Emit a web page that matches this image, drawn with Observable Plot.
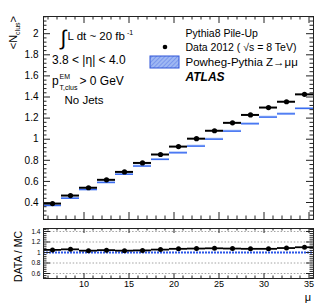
<!DOCTYPE html>
<html><head><meta charset="utf-8">
<script src="https://cdn.jsdelivr.net/npm/d3@7"></script>
<script src="https://cdn.jsdelivr.net/npm/@observablehq/plot@0.6"></script>
<style>
body{margin:0;background:#fff;}
#c{width:329px;height:305px;}
#c svg{display:block;}
</style></head><body><div id="c"></div>
<script>
// ---- data ----
const binCenters = [6.5, 8.5, 10.5, 12.5, 14.5, 16.5, 18.5, 20.5, 22.5, 24.5, 26.5, 28.5, 30.5, 32.5, 34.5];
const binHalfWidth = 1;
const dataMean = [0.39, 0.466, 0.54, 0.615, 0.69, 0.775, 0.855, 0.93, 1.005, 1.08, 1.155, 1.23, 1.30, 1.355, 1.425];
const mcMean   = [0.371, 0.44, 0.522, 0.589, 0.667, 0.745, 0.808, 0.871, 0.934, 1.0, 1.076, 1.146, 1.209, 1.24, 1.291];
const ratio    = [1.05, 1.06, 1.035, 1.045, 1.035, 1.04, 1.055, 1.07, 1.075, 1.08, 1.075, 1.07, 1.07, 1.085, 1.10];
const yTicksMain = [0.4, 0.6, 0.8, 1, 1.2, 1.4, 1.6, 1.8, 2];
const yTicksRatio = [0.6, 0.8, 1, 1.2, 1.4];
const xTicks = [10, 15, 20, 25, 30, 35];
const ratioGrid = [0.6, 0.8, 1.2, 1.4];

// ---- texts ----
const legendTitle = "Pythia8 Pile-Up";
const legendData = "Data 2012 ( √s = 8 TeV)";
const legendMC = "Powheg-Pythia Z→μμ";
const atlasLabel = "ATLAS";
const etaLabel = "3.8 < |η| < 4.0";
const jetsLabel = "No Jets";

const FONT = "'Liberation Sans', Arial, Helvetica, sans-serif";
const W = 329, mL = 43, mR = 16;
const xDom = [5.5, 35.5];
const yDomMain = [0.239, 2.163];
const yDomRatio = [0.505, 1.457];
const pxX = (W - mL - mR) / (xDom[1] - xDom[0]);

const rows = binCenters.map((c, i) => ({
  x: c, lo: c - binHalfWidth, hi: c + binHalfWidth,
  data: dataMean[i], mc: mcMean[i], r: ratio[i]
}));

function frameTicks(yDom, innerH, yMajor, yMinor, xMaj, xMin, xLenMaj, xLenMin, yLenMaj, yLenMin) {
  const pxY = innerH / (yDom[1] - yDom[0]);
  const s = {stroke: "#222", strokeWidth: 1};
  return [
    Plot.ruleY(yMajor, {...s, x1: xDom[0], x2: xDom[0] + yLenMaj / pxX}),
    Plot.ruleY(yMinor, {...s, x1: xDom[0], x2: xDom[0] + yLenMin / pxX}),
    Plot.ruleY(yMajor, {...s, x1: xDom[1], x2: xDom[1] - yLenMaj / pxX}),
    Plot.ruleY(yMinor, {...s, x1: xDom[1], x2: xDom[1] - yLenMin / pxX}),
    Plot.ruleX(xMaj, {...s, y1: yDom[0], y2: yDom[0] + xLenMaj / pxY}),
    Plot.ruleX(xMin, {...s, y1: yDom[0], y2: yDom[0] + xLenMin / pxY}),
    Plot.ruleX(xMaj, {...s, y1: yDom[1], y2: yDom[1] - xLenMaj / pxY}),
    Plot.ruleX(xMin, {...s, y1: yDom[1], y2: yDom[1] - xLenMin / pxY})
  ];
}
const xMinor = d3.range(6, 36).filter(v => v % 5 !== 0);
const yMinorMain = d3.range(6, 55).filter(i => i % 5 !== 0).map(i => +(i * 0.04).toFixed(2));
const yMinorRatio = d3.range(13, 37).filter(i => i % 5 !== 0).map(i => +(i * 0.04).toFixed(2));

// ---- main panel ----
const mainH = 222, mainTop = 16, mainBottom = 3;
const main = Plot.plot({
  width: W, height: mainH, marginLeft: mL, marginRight: mR, marginTop: mainTop, marginBottom: mainBottom,
  style: {fontFamily: FONT, fontSize: "10px", background: "white", color: "#000", overflow: "visible"},
  x: {domain: xDom, axis: null},
  y: {domain: yDomMain, axis: null},
  marks: [
    Plot.rect(rows, {x1: "lo", x2: "hi", y1: d => d.mc - 0.009, y2: d => d.mc + 0.009, fill: "#a3bdf6"}),
    Plot.ruleY(rows, {x1: "lo", x2: "hi", y: "mc", stroke: "#3a6cf2", strokeWidth: 1.3}),
    Plot.ruleY(rows, {x1: "lo", x2: "hi", y: "data", stroke: "#000", strokeWidth: 2}),
    Plot.dot(rows, {x: "x", y: "data", r: 2.6, fill: "#000"}),
    ...frameTicks(yDomMain, mainH - mainTop - mainBottom, yTicksMain, yMinorMain, xTicks, xMinor, 7, 3.5, 7, 3.5),
    Plot.axisY(yTicksMain, {anchor: "left", tickSize: 0, tickPadding: 5, fontSize: 10, label: null, tickFormat: d => String(d)}),
    Plot.frame({stroke: "#222"})
  ]
});

// ---- ratio panel ----
const ratioH = 83, ratioTop = 6, ratioBottom = 27;
const ratioPlot = Plot.plot({
  width: W, height: ratioH, marginLeft: mL, marginRight: mR, marginTop: ratioTop, marginBottom: ratioBottom,
  style: {fontFamily: FONT, fontSize: "9px", background: "white", color: "#000", overflow: "visible"},
  x: {domain: xDom, axis: null},
  y: {domain: yDomRatio, axis: null},
  marks: [
    Plot.ruleY(ratioGrid, {stroke: "#8a8a8a", strokeWidth: 0.8, strokeDasharray: "1.5,1.8"}),
    Plot.ruleY([1], {stroke: "#2a55e8", strokeWidth: 2, strokeDasharray: "2,1"}),
    Plot.ruleY(rows, {x1: "lo", x2: "hi", y: "r", stroke: "#000", strokeWidth: 1.8}),
    Plot.dot(rows, {x: "x", y: "r", r: 2.5, fill: "#000"}),
    ...frameTicks(yDomRatio, ratioH - ratioTop - ratioBottom, yTicksRatio, yMinorRatio, xTicks, xMinor, 5, 2.5, 7, 3.5),
    Plot.axisY(yTicksRatio, {anchor: "left", tickSize: 0, tickPadding: 3, fontSize: 6.5, label: null, tickFormat: d => String(d)}),
    Plot.axisX(xTicks, {anchor: "bottom", tickSize: 0, tickPadding: 2, fontSize: 9, label: null}),
    Plot.frame({stroke: "#222"})
  ]
});

// ---- rich text helper ----
function rich(svg, x, y, parts, attrs = {}) {
  const t = d3.select(svg).append("text").attr("x", x).attr("y", y)
    .attr("font-family", FONT).attr("fill", "#000").attr("text-anchor", "start");
  for (const [k, v] of Object.entries(attrs)) t.attr(k, v);
  let cur = 0;
  for (const p of parts) {
    const ts = t.append("tspan").text(p.t).attr("font-size", p.s);
    const b = p.b || 0;
    if (b !== cur) { ts.attr("dy", b - cur); cur = b; }
    if (p.dx) ts.attr("dx", p.dx);
    if (p.x != null) ts.attr("x", p.x);
    if (p.w) ts.attr("font-weight", p.w);
    if (p.i) ts.attr("font-style", "italic");
  }
  return t;
}

// main annotations
rich(main, 60.5, 45, [{t: "∫", s: 21}]);
rich(main, 67.5, 39.5, [{t: "L dt ~ 20 fb", s: 11.5}, {t: "-1", s: 7, b: -5, dx: 2}]);
rich(main, 52, 64, [{t: etaLabel, s: 12}]);
rich(main, 52, 85, [{t: "p", s: 12}, {t: "EM", s: 7, b: -6, x: 59.5}, {t: "T,clus", s: 7, b: 5, x: 59.5}, {t: "> 0 GeV", s: 12, b: 0, x: 79.5}]);
rich(main, 64.5, 104, [{t: jetsLabel, s: 11.5}]);
// y title
rich(main, 0, 0, [{t: "<N", s: 11}, {t: "clus", s: 7, b: 2.5}, {t: ">", s: 11, b: 0}],
  {"text-anchor": "end", transform: "translate(17,16) rotate(-90)"});

// legend
rich(main, 185.5, 37, [{t: legendTitle, s: 10.5}]);
d3.select(main).append("circle").attr("cx", 165).attr("cy", 47).attr("r", 2.3).attr("fill", "#000");
rich(main, 185.5, 51, [{t: legendData, s: 10.5}]);
const defs = d3.select(main).append("defs");
const pat = defs.append("pattern").attr("id", "hatch").attr("patternUnits", "userSpaceOnUse")
  .attr("width", 3).attr("height", 3).attr("patternTransform", "rotate(45)");
pat.append("rect").attr("width", 3).attr("height", 3).attr("fill", "#9fb8f3");
pat.append("line").attr("x1", 0).attr("y1", 0).attr("x2", 0).attr("y2", 3).attr("stroke", "#5577e6").attr("stroke-width", 1);
d3.select(main).append("rect").attr("x", 150).attr("y", 56).attr("width", 29).attr("height", 12)
  .attr("fill", "url(#hatch)").attr("stroke", "#2f55d8").attr("stroke-width", 1);
rich(main, 185.5, 66, [{t: legendMC, s: 11.5}]);
rich(main, 185.5, 80.5, [{t: atlasLabel, s: 12, w: "bold", i: true}]);

// ratio annotations
rich(ratioPlot, 0, 0, [{t: "DATA / MC", s: 10.5}],
  {"text-anchor": "end", transform: "translate(22,9) rotate(-90)"});
rich(ratioPlot, 311, 79, [{t: "μ", s: 11}], {"text-anchor": "end"});

document.getElementById("c").append(main, ratioPlot);
</script>
</body></html>
